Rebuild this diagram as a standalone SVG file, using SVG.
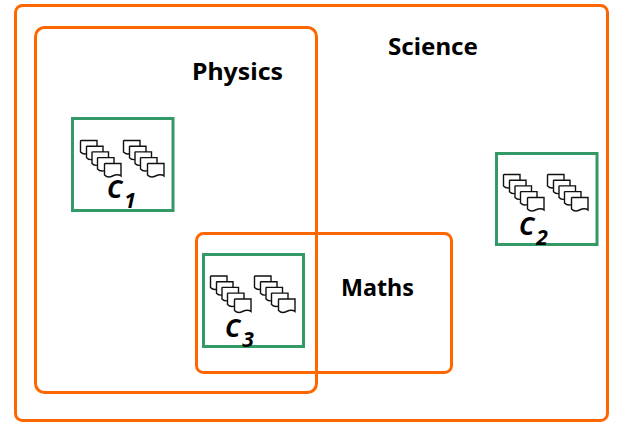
<svg xmlns="http://www.w3.org/2000/svg" width="619" height="436" viewBox="0 0 619 436">
<style>
.o{fill:none;stroke:#ff6600;stroke-width:3}
.g{fill:#fff;stroke:#339966;stroke-width:3}
.d{fill:#fff;stroke:#111;stroke-width:1.400}
.t{font-family:"Noto Sans",sans-serif;font-weight:bold;font-size:24px;fill:#000}
.c{font-family:"Noto Sans",sans-serif;font-weight:bold;font-style:italic;font-size:25px;fill:#000}
.s{font-size:21px}
</style>
<defs>
<path id="p" d="M0 0.500Q0 0 0.500 0H16.500V12.500C13.500 10 11 11 8 12.500C5 14 2 13.500 0 11.500Z"/>
<g id="stack">
<use href="#p" class="d" x="0" y="0"/>
<use href="#p" class="d" x="6" y="5.700"/>
<use href="#p" class="d" x="11.500" y="11.400"/>
<use href="#p" class="d" x="17" y="17.100"/>
<use href="#p" class="d" x="24" y="23"/>
</g>
</defs>
<rect width="619" height="436" fill="#fff"/>
<g id="science">
<rect class="o" x="15.500" y="5.500" width="592" height="415" rx="7"/>
<text class="t" x="388" y="55" textLength="90" lengthAdjust="spacingAndGlyphs">Science</text>
</g>
<g id="physics">
<rect class="o" x="35.500" y="27.500" width="281" height="365" rx="9"/>
<text class="t" x="192" y="80" textLength="91" lengthAdjust="spacingAndGlyphs">Physics</text>
</g>
<g id="c1">
<rect class="g" x="72.500" y="118.500" width="100.500" height="92"/>
<use href="#stack" x="80.500" y="140.500"/>
<use href="#stack" x="123.500" y="140.500"/>
<text class="c" x="107" y="198">C<tspan class="s" dx="2" dy="10">1</tspan></text>
</g>
<g id="c2">
<rect class="g" x="496.500" y="153.500" width="100.500" height="91"/>
<use href="#stack" x="503.500" y="174.500"/>
<use href="#stack" x="547.500" y="174.500"/>
<text class="c" x="519" y="235">C<tspan class="s" dx="2" dy="10">2</tspan></text>
</g>
<g id="c3">
<rect class="g" x="203.500" y="254.500" width="100" height="92"/>
<use href="#stack" x="210.500" y="276"/>
<use href="#stack" x="254.500" y="276"/>
<text class="c" x="225" y="337">C<tspan class="s" dx="2" dy="10">3</tspan></text>
</g>
<g id="maths">
<rect class="o" x="196.500" y="233.500" width="255" height="139" rx="7"/>
<text class="t" x="341" y="296" textLength="73" lengthAdjust="spacingAndGlyphs">Maths</text>
</g>
</svg>
